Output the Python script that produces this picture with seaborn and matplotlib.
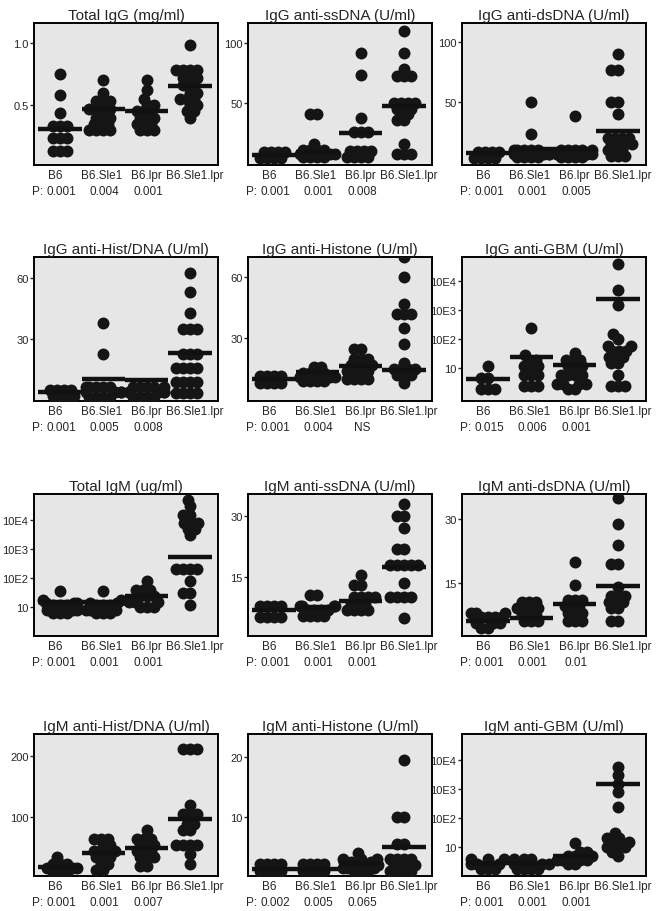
"""
Serum IgG / IgM autoantibody levels in B6, B6.Sle1, B6.lpr and B6.Sle1.lpr mice.
12 dot-plot panels (one dot per mouse) with a bar for the group mean.
"""
import warnings

import numpy as np
import pandas as pd
import matplotlib
matplotlib.use("Agg")
import matplotlib.pyplot as plt
import matplotlib.transforms as mtransforms
from matplotlib.collections import PathCollection
import seaborn as sns

warnings.filterwarnings("ignore")

GROUPS = ["B6", "B6.Sle1", "B6.lpr", "B6.Sle1.lpr"]

# --------------------------------------------------------------------------- #
# values, one list per group (B6, Sle1, lpr, Sle1.lpr)
# --------------------------------------------------------------------------- #
IGG_TOTAL = [
    [0.75, 0.58, 0.44, 0.33, 0.33, 0.33, 0.24, 0.24, 0.24, 0.13, 0.13, 0.13],
    [0.70, 0.60, 0.53, 0.53, 0.53, 0.47, 0.47, 0.47, 0.47, 0.40, 0.40, 0.40,
     0.35, 0.35, 0.35, 0.30, 0.30, 0.30, 0.30],
    [0.70, 0.62, 0.55, 0.50, 0.50, 0.45, 0.45, 0.45, 0.40, 0.40, 0.40,
     0.35, 0.35, 0.35, 0.30, 0.30, 0.30],
    [0.98, 0.78, 0.78, 0.78, 0.78, 0.72, 0.72, 0.72, 0.66, 0.66, 0.60, 0.60,
     0.55, 0.55, 0.55, 0.50, 0.50, 0.45, 0.45, 0.40],
]
IGG_SSDNA = [
    [8.5, 8.5, 8.5, 8.5, 3.5, 3.5, 3.5, 3.5],
    [40, 40, 15, 10, 10, 10, 10, 7, 7, 7, 4, 4, 4, 4],
    [92, 73, 37, 25, 25, 25, 9, 9, 9, 9, 4, 4, 4, 4],
    [110, 92, 78, 72, 72, 72, 50, 50, 50, 50, 45, 45, 45, 40, 40, 35, 35,
     15, 7, 7, 7],
]
IGG_DSDNA = [
    [8.5, 8.5, 8.5, 8.5, 3.5, 3.5, 3.5, 3.5],
    [50, 23, 10, 10, 10, 10, 10, 7, 7, 7, 7, 4, 4, 4, 4],
    [38, 10, 10, 10, 10, 10, 7, 7, 7, 7, 4, 4, 4, 4],
    [90, 77, 77, 50, 50, 40, 20, 20, 20, 20, 15, 15, 15, 15, 10, 10, 10,
     5, 5, 5],
]
IGG_HISTDNA = [
    [5.5, 5.5, 5.5, 5.5, 2.5, 2.5, 2.5, 2.5],
    [38, 23, 7, 7, 7, 7, 7, 4.5, 4.5, 4.5, 4.5, 2, 2, 2, 2],
    [7, 7, 7, 7, 7, 4.5, 4.5, 4.5, 4.5, 4.5, 2, 2, 2, 2],
    [62, 53, 43, 35, 35, 35, 23, 23, 23, 16, 16, 16, 16, 9, 9, 9, 9,
     4, 4, 4, 4],
]
IGG_HISTONE = [
    [11.5, 11.5, 11.5, 11.5, 8, 8, 8, 8],
    [16, 16, 13, 13, 13, 13, 11, 11, 11, 11, 9, 9, 9, 9],
    [25, 25, 20, 20, 20, 17, 17, 17, 17, 14, 14, 14, 14, 10, 10, 10, 10],
    [70, 60, 47, 42, 42, 42, 35, 27, 18, 15, 15, 15, 15, 12, 12, 12, 8],
]
IGG_GBM = [
    [12, 4.5, 4.5, 2, 2, 2],
    [250, 30, 20, 20, 12, 12, 12, 6, 6, 6, 2.5, 2.5, 2.5],
    [35, 20, 20, 20, 12, 12, 12, 6, 6, 6, 6, 3, 3, 3, 3, 2, 2],
    [40000, 5000, 1500, 150, 100, 60, 60, 40, 40, 40, 25, 25, 25, 15, 15,
     6, 2.5, 2.5, 2.5],
]
IGM_TOTAL = [
    [35, 18, 14, 14, 14, 12, 12, 12, 8, 8, 8, 6, 6, 6],
    [35, 18, 14, 14, 12, 12, 12, 8, 8, 8, 6, 6, 6],
    [80, 40, 40, 40, 25, 25, 25, 15, 15, 15, 10, 10, 10],
    [50000, 30000, 15000, 15000, 8000, 8000, 8000, 5000, 5000, 3000,
     200, 200, 200, 200, 80, 30, 30, 12],
]
IGM_SSDNA = [
    [7.8, 7.8, 7.8, 7.8, 5.3, 5.3, 5.3, 5.3],
    [10.5, 10.5, 8, 8, 8, 8, 7, 7, 7, 7, 5.5, 5.5, 5.5, 5.5],
    [15.5, 13, 13, 10, 10, 10, 10, 8.5, 8.5, 8.5, 7, 7, 7, 7],
    [33, 30, 30, 27, 22, 22, 18, 18, 18, 18, 18, 13.5, 10, 10, 10, 10, 5],
]
IGM_DSDNA = [
    [8, 8, 8, 7, 7, 7, 7, 5.5, 5.5, 5.5, 4.5, 4.5],
    [10.5, 10.5, 10.5, 9, 9, 9, 9, 7.5, 7.5, 7.5, 6, 6, 6],
    [20, 14.5, 11, 11, 11, 9.5, 9.5, 9.5, 8, 8, 8, 6, 6, 6],
    [35, 29, 24, 19.5, 19.5, 14, 12, 12, 12, 10.5, 10.5, 10.5, 9, 9, 6, 6],
]
IGM_HISTDNA = [
    [35, 25, 25, 25, 18, 18, 18, 12, 12, 12],
    [65, 65, 65, 55, 55, 45, 45, 45, 45, 35, 35, 35, 25, 25, 15, 15],
    [80, 65, 65, 65, 55, 55, 55, 45, 45, 45, 35, 35, 35, 22, 22],
    [210, 210, 210, 120, 105, 105, 105, 90, 90, 80, 80, 55, 55, 55, 55,
     40, 25],
]
IGM_HISTONE = [
    [2.2, 2.2, 2.2, 2.2, 1.0, 1.0, 1.0, 1.0],
    [2.2, 2.2, 2.2, 2.2, 1.0, 1.0, 1.0, 1.0],
    [4, 3, 3, 3, 2.5, 2.5, 2.5, 2, 2, 2, 1.5, 1.5, 1.5, 1, 1, 1],
    [19.5, 10, 10, 5.5, 5.5, 3, 3, 3, 3, 2, 2, 2, 2, 1, 1, 1, 1],
]
IGM_GBM = [
    [3.8, 3.8, 3.8, 2.6, 2.6, 2.6, 1.7, 1.7, 1.7],
    [3.8, 3.8, 3.8, 2.6, 2.6, 2.6, 1.7, 1.7, 1.7, 1.7],
    [14, 7, 7, 5, 5, 5, 3.5, 3.5, 3.5, 3.5, 2.5, 2.5],
    [6000, 3000, 1500, 800, 250, 30, 20, 20, 15, 15, 10, 10, 10, 7, 5],
]

# group mean bars as drawn in the figure
MEANS = [
    [0.31, 0.47, 0.45, 0.655],
    [5.5, 8.7, 24.6, 47],
    [7.3, 10.6, 10.6, 26],
    [4.5, 10.8, 10, 23.4],
    [10, 13.3, 16.3, 14.5],
    [4.2, 24, 13, 2400],
    [14.8, 14.8, 25, 530],
    [6.8, 7.6, 9.2, 17.4],
    [6, 6.8, 10, 14.2],
    [20, 43, 51, 98],
    [1.4, 1.4, 2.3, 5],
    [2.9, 2.9, 4.9, 1500],
]

P_VALUES = [
    ["0.001", "0.004", "0.001"],
    ["0.001", "0.001", "0.008"],
    ["0.001", "0.001", "0.005"],
    ["0.001", "0.005", "0.008"],
    ["0.001", "0.004", "NS"],
    ["0.015", "0.006", "0.001"],
    ["0.001", "0.001", "0.001"],
    ["0.001", "0.001", "0.001"],
    ["0.001", "0.001", "0.01"],
    ["0.001", "0.001", "0.007"],
    ["0.002", "0.005", "0.065"],
    ["0.001", "0.001", "0.001"],
]

TITLES = [
    "Total IgG (mg/ml)", "IgG anti-ssDNA (U/ml)", "IgG anti-dsDNA (U/ml)",
    "IgG anti-Hist/DNA (U/ml)", "IgG anti-Histone (U/ml)", "IgG anti-GBM (U/ml)",
    "Total IgM (ug/ml)", "IgM anti-ssDNA (U/ml)", "IgM anti-dsDNA (U/ml)",
    "IgM anti-Hist/DNA (U/ml)", "IgM anti-Histone (U/ml)", "IgM anti-GBM (U/ml)",
]

LOG_TICKS = [10, 100, 1000, 10000]
LOG_LABELS = ["10", "10E2", "10E3", "10E4"]

# (values, log scale, ylim, yticks, ytick labels)
PANELS = [
    (IGG_TOTAL, False, (0.02, 1.16), [0.5, 1.0], ["0.5", "1.0"]),
    (IGG_SSDNA, False, (-2.5, 117), [50, 100], ["50", "100"]),
    (IGG_DSDNA, False, (-2.5, 116), [50, 100], ["50", "100"]),
    (IGG_HISTDNA, False, (0, 70), [30, 60], ["30", "60"]),
    (IGG_HISTONE, False, (-0.8, 70), [30, 60], ["30", "60"]),
    (IGG_GBM, True, (0.75, 7e4), LOG_TICKS, LOG_LABELS),
    (IGM_TOTAL, True, (1, 8e4), LOG_TICKS, LOG_LABELS),
    (IGM_SSDNA, False, (0.5, 35.5), [15, 30], ["15", "30"]),
    (IGM_DSDNA, False, (2.5, 36), [15, 30], ["15", "30"]),
    (IGM_HISTDNA, False, (5, 235), [100, 200], ["100", "200"]),
    (IGM_HISTONE, False, (0.2, 23.8), [10, 20], ["10", "20"]),
    (IGM_GBM, True, (1, 8e4), LOG_TICKS, LOG_LABELS),
]

# layout in pixels of the 656x912 canvas
W, H = 656, 912
COL_LEFT = [34, 248, 462]
COL_W = 184
ROWS = [(24, 166), (258, 402), (495, 637), (735, 877)]
LABEL_SHIFT_PX = [-5, -2, 0, 5]

sns.set_style("ticks")
plt.rcParams["font.family"] = ["Liberation Sans", "DejaVu Sans"]

fig = plt.figure(figsize=(W / 100, H / 100), dpi=100)
axes = []
for k, (vals, is_log, ylim, yticks, ylabels) in enumerate(PANELS):
    r, c = divmod(k, 3)
    top, bot = ROWS[r]
    ax = fig.add_axes([COL_LEFT[c] / W, 1 - bot / H, COL_W / W, (bot - top) / H])
    ax.set_facecolor("#e6e6e6")

    df = pd.DataFrame({
        "group": np.concatenate([[g] * len(v) for g, v in zip(GROUPS, vals)]),
        "value": np.concatenate([np.asarray(v, float) for v in vals]),
    })
    sns.swarmplot(data=df, x="group", y="value", order=GROUPS, color="#151515",
                  size=4.8, linewidth=0, ax=ax, legend=False,
                  log_scale=(False, True) if is_log else None)
    ax.hlines(MEANS[k], np.arange(4) - 0.5, np.arange(4) + 0.5,
              color="#111111", linewidth=3.2, zorder=3)

    ax.set_xlim(-0.6, 3.65)
    ax.set_ylim(*ylim)
    ax.set_yticks(yticks)
    ax.set_yticklabels(ylabels)
    ax.minorticks_off()
    ax.set_xlabel("")
    ax.set_ylabel("")
    ax.set_title(TITLES[k], fontsize=11, pad=3)
    ax.tick_params(axis="x", length=0, pad=3, labelsize=8.5)
    ax.tick_params(axis="y", length=3, width=1, pad=1, labelsize=8)
    for lab, dx in zip(ax.get_xticklabels(), LABEL_SHIFT_PX):
        lab.set_transform(lab.get_transform() +
                          mtransforms.ScaledTranslation(dx / 100, 0, fig.dpi_scale_trans))
    for s in ax.spines.values():
        s.set_visible(True)
        s.set_linewidth(1.4)
        s.set_color("black")

    for i, p in enumerate(P_VALUES[k]):
        ax.annotate(p, xy=(i, 0), xycoords=("data", "axes fraction"),
                    xytext=(1, -19), textcoords="offset points",
                    ha="center", va="center", fontsize=8.5)
    ax.annotate("P:", xy=(-0.4, 0), xycoords=("data", "axes fraction"),
                xytext=(0, -19), textcoords="offset points",
                ha="right", va="center", fontsize=8.5, annotation_clip=False)
    axes.append(ax)

# lay out the swarms with a small marker, then freeze them and enlarge the
# dots so neighbouring points overlap like in the original figure
fig.canvas.draw()
for ax in axes:
    for coll in ax.collections:
        if isinstance(coll, PathCollection) and "draw" in coll.__dict__:
            del coll.draw
            coll.set_sizes([8.6 ** 2])

fig.savefig("out.png", dpi=100)
